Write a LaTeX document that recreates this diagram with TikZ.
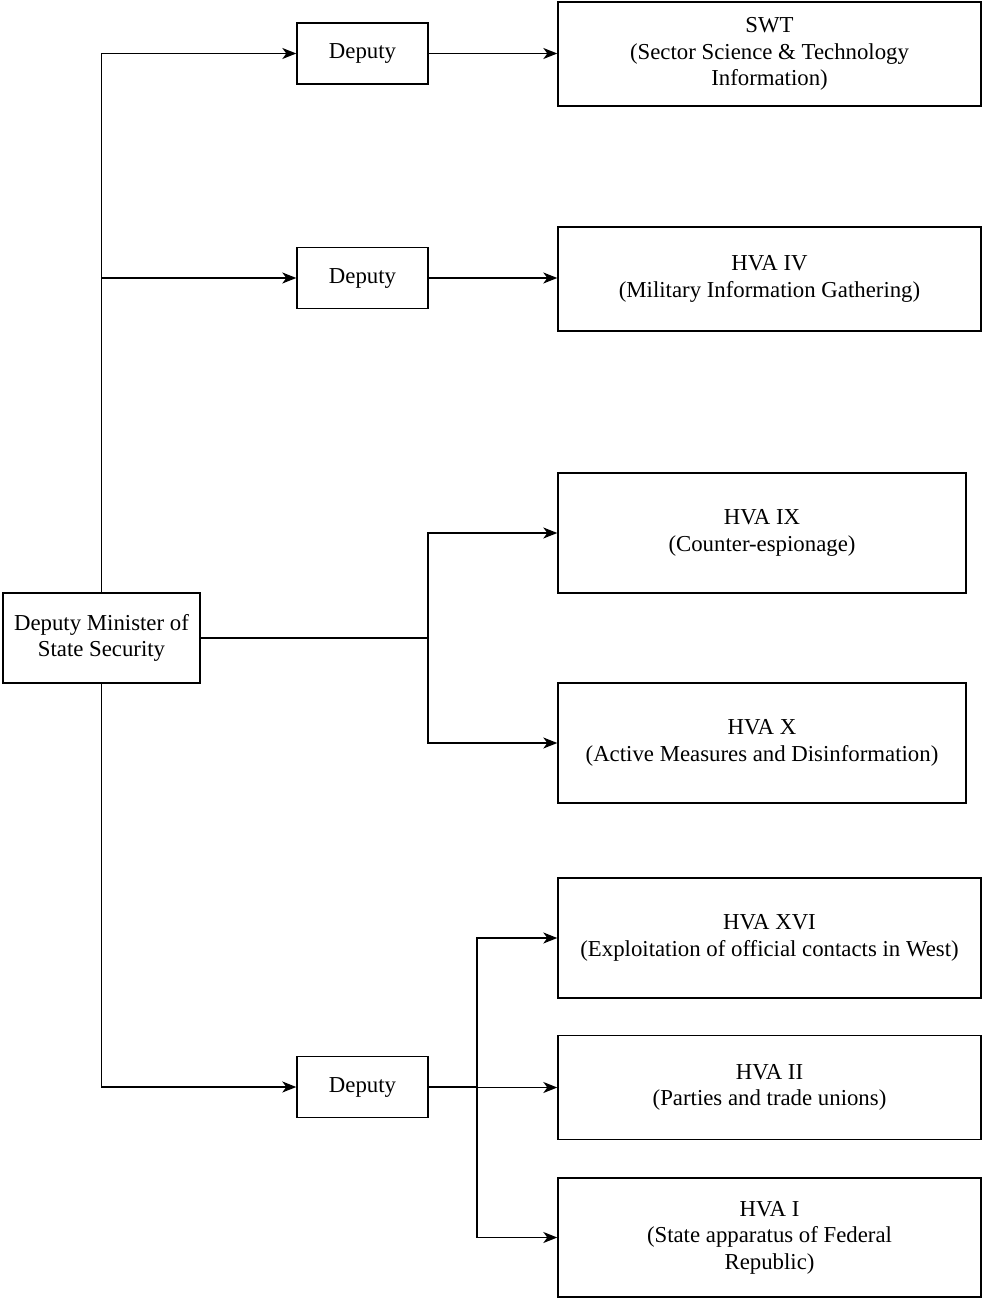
\documentclass[tikz,border=0pt]{standalone}
\usepackage{fontspec}
\setmainfont{Liberation Serif}
\usetikzlibrary{arrows.meta}

\begin{document}
\begin{tikzpicture}[x=0.5pt, y=-0.5pt, font=\fontsize{11.4}{13.3}\selectfont]

% Styles
        \tikzstyle{box}=[rectangle, draw, line width=0.7pt, fill=white, inner sep=0pt, align=center]
        \tikzstyle{deputy}=[box, minimum width=65.5pt, minimum height=30.5pt]
        \tikzstyle{unit}=[box, minimum width=211.5pt, minimum height=52pt]
        \tikzstyle{tallunit}=[box, minimum width=211.5pt, minimum height=60pt]
        \tikzstyle{arrow}=[-{Stealth[length=7pt, width=5.5pt, inset=2pt]}, line width=0.7pt]
        \tikzstyle{line}=[line width=0.7pt]

        \useasboundingbox (0,0) rectangle (982,1299);

% Nodes
% Minister
        \node[box, minimum width=98.5pt, minimum height=45pt] (main) at (101.5,638) {Deputy Minister of\\State Security};

% Deputies
        \node[deputy] (dep1) at (362.5,53.5) {Deputy};
        \node[deputy] (dep2) at (362.5,278) {Deputy};
        \node[deputy] (dep3) at (362.5,1087) {Deputy};

% Sections
        \node[unit] (swt) at (769.5,54) {SWT\\(Sector Science \& Technology\\Information)};
        \node[unit] (hva4) at (769.5,279) {HVA IV\\(Military Information Gathering)};
        \node[tallunit, minimum width=204pt] (hva9) at (762,533) {HVA IX\\(Counter-espionage)};
        \node[tallunit, minimum width=204pt] (hva10) at (762,743) {HVA X\\(Active Measures and Disinformation)};
        \node[tallunit] (hva16) at (769.5,938) {HVA XVI\\(Exploitation of official contacts in West)};
        \node[unit] (hva2) at (769.5,1087.5) {HVA II\\(Parties and trade unions)};
        \node[tallunit, minimum height=59.5pt] (hva1) at (769.5,1237.5) {HVA I\\(State apparatus of Federal\\Republic)};

% Split points
        \coordinate (split1) at (428,638);
        \coordinate (split2) at (477,1087);

% Connections
% Minister to deputies
        \draw[arrow] (main.north) |- (dep1.west);
        \draw[arrow] (main.north) |- (dep2.west);
        \draw[arrow] (main.south) |- (dep3.west);

% Deputies to sections
        \draw[arrow] (dep1.east) -- (dep1.east -| swt.west);
        \draw[arrow] (dep2.east) -- (dep2.east -| hva4.west);

% Minister to sections
        \draw[line] (main.east) -- (split1);
        \draw[arrow] (split1) |- (hva9.west);
        \draw[arrow] (split1) |- (hva10.west);

% Third deputy
        \draw[line] (dep3.east) -- (split2);
        \draw[arrow] (split2) |- (hva16.west);
        \draw[arrow] (split2) |- (hva2.west);
        \draw[arrow] (split2) |- (hva1.west);

    \end{tikzpicture}
\end{document}
